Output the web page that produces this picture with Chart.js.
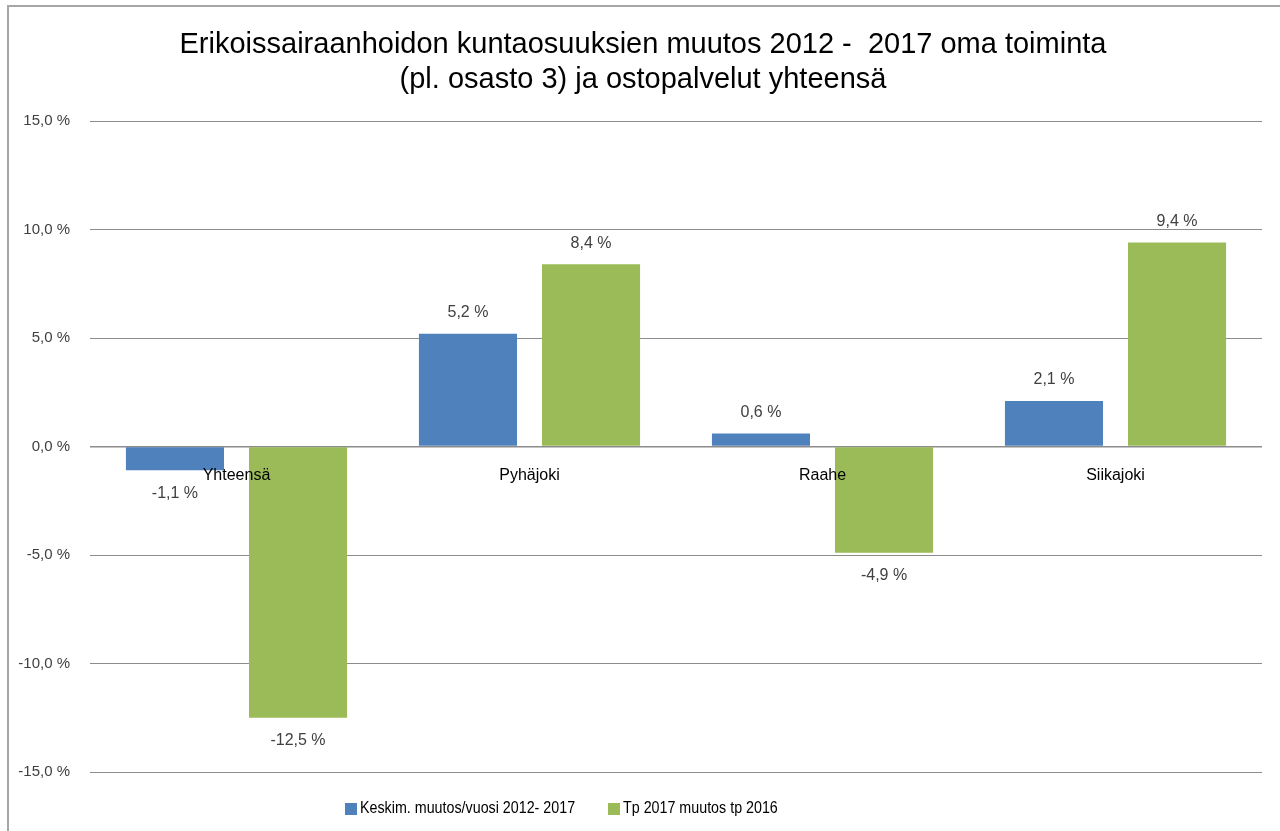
<!DOCTYPE html>
<html>
<head>
<meta charset="utf-8">
<script src="https://cdn.jsdelivr.net/npm/chart.js@4.4.1/dist/chart.umd.min.js"></script>
<style>
  html, body { margin: 0; padding: 0; background: #fff; }
  #wrap { position: relative; width: 1280px; height: 831px; overflow: hidden; }
  #kehys { position: absolute; left: 7px; top: 5px; width: 1400px; height: 900px;
           border-left: 2px solid #a6a6a6; border-top: 2px solid #a6a6a6; }
  #kaavio { position: absolute; left: 0; top: 0; }
  .selite { position: absolute; top: 798px; font-family: "Liberation Sans", Arial, sans-serif;
            font-size: 17px; color: #000; white-space: nowrap; }
  .selite span.laatikko { position: absolute; left: 0; top: 5px; width: 12px; height: 12px; }
  .selite span.teksti { position: absolute; left: 15px; top: 0; transform: scaleX(0.84); transform-origin: 0 0; }
</style>
</head>
<body>
<div id="wrap">
  <div id="kehys"></div>
  <canvas id="kaavio" width="1280" height="831"></canvas>
</div>
<script>
// kunnat
var kunnat = ["Yhteensä", "Pyhäjoki", "Raahe", "Siikajoki"];
// sarjat (%)
var keskimMuutos = [-1.1, 5.2, 0.6, 2.1];
var tpMuutos = [-12.5, 8.4, -4.9, 9.4];
var sarjaNimet = ["Keskim.  muutos/vuosi  2012- 2017", "Tp 2017 muutos tp 2016"];
var otsikko = ["Erikoissairaanhoidon kuntaosuuksien muutos 2012 -  2017 oma toiminta", "(pl. osasto 3) ja ostopalvelut yhteensä"];
var yTicks = [-15, -10, -5, 0, 5, 10, 15];

var sininen = "#4f81bd";
var vihrea = "#9bbb59";

function prosentti(v) {
  return v.toFixed(1).replace(".", ",") + " %";
}

// otsikko itse piirrettynä, jotta keskikohta osuu oikein
var otsikkoPlugin = {
  id: "otsikko",
  afterDraw: function(chart) {
    var ctx = chart.ctx;
    ctx.save();
    ctx.font = "29px 'Liberation Sans', Arial, sans-serif";
    ctx.fillStyle = "#000";
    ctx.textAlign = "center";
    ctx.textBaseline = "middle";
    otsikko.forEach(function(rivi, i) {
      ctx.fillText(rivi, 643, 45 + i * 35);
    });
    ctx.restore();
  }
};

// arvot palkkien päälle / alle
var arvoPlugin = {
  id: "arvot",
  afterDatasetsDraw: function(chart) {
    var ctx = chart.ctx;
    ctx.save();
    ctx.font = "16px 'Liberation Sans', Arial, sans-serif";
    ctx.fillStyle = "#404040";
    ctx.textAlign = "center";
    ctx.textBaseline = "middle";
    chart.data.datasets.forEach(function(ds, i) {
      var meta = chart.getDatasetMeta(i);
      meta.data.forEach(function(bar, j) {
        var v = ds.data[j];
        var y = v >= 0 ? bar.y - 21 : bar.y + 23;
        ctx.fillText(prosentti(v), bar.x, y);
      });
    });
    // kategoriat nollaviivan alle
    var xs = chart.scales.x;
    var y0 = chart.scales.y.getPixelForValue(0);
    ctx.fillStyle = "#000";
    ctx.font = "16px 'Liberation Sans', Arial, sans-serif";
    chart.data.labels.forEach(function(lbl, k) {
      ctx.fillText(lbl, xs.getPixelForValue(k), y0 + 29);
    });
    ctx.restore();
  }
};

var data = {
  labels: kunnat,
  datasets: [
    {
      label: sarjaNimet[0],
      data: keskimMuutos,
      backgroundColor: sininen,
      categoryPercentage: 0.84,
      barPercentage: 0.797
    },
    {
      label: sarjaNimet[1],
      data: tpMuutos,
      backgroundColor: vihrea,
      categoryPercentage: 0.84,
      barPercentage: 0.797
    }
  ]
};

var options = {
  responsive: false,
  animation: false,
  layout: { padding: { left: 0, right: 18, top: 121, bottom: 59 } },
  scales: {
    x: {
      display: false
    },
    y: {
      min: -15,
      max: 15,
      afterFit: function(scale) { scale.width = 90; },
      afterBuildTicks: function(scale) {
        scale.ticks = yTicks.map(function(v) { return { value: v }; });
      },
      ticks: {
        padding: 20,
        color: "#404040",
        font: { family: "'Liberation Sans', Arial, sans-serif", size: 15 },
        callback: function(v) { return prosentti(v); }
      },
      grid: {
        drawTicks: false,
        color: "#8c8c8c",
        lineWidth: function(c) { return c.tick && c.tick.value === 0 ? 1.5 : 1; }
      },
      border: { display: false }
    }
  },
  plugins: {
    legend: { display: false },
    tooltip: { enabled: false },
    title: { display: false }
  }
};

new Chart(document.getElementById("kaavio").getContext("2d"), {
  type: "bar",
  data: data,
  options: options,
  plugins: [arvoPlugin, otsikkoPlugin]
});

// selite
var wrap = document.getElementById("wrap");
var seliteX = [345, 608];
[sininen, vihrea].forEach(function(vari, i) {
  var d = document.createElement("div");
  d.className = "selite";
  d.style.left = seliteX[i] + "px";
  var l = document.createElement("span");
  l.className = "laatikko";
  l.style.background = vari;
  var t = document.createElement("span");
  t.className = "teksti";
  t.textContent = sarjaNimet[i];
  d.appendChild(l);
  d.appendChild(t);
  wrap.appendChild(d);
});
</script>
</body>
</html>
